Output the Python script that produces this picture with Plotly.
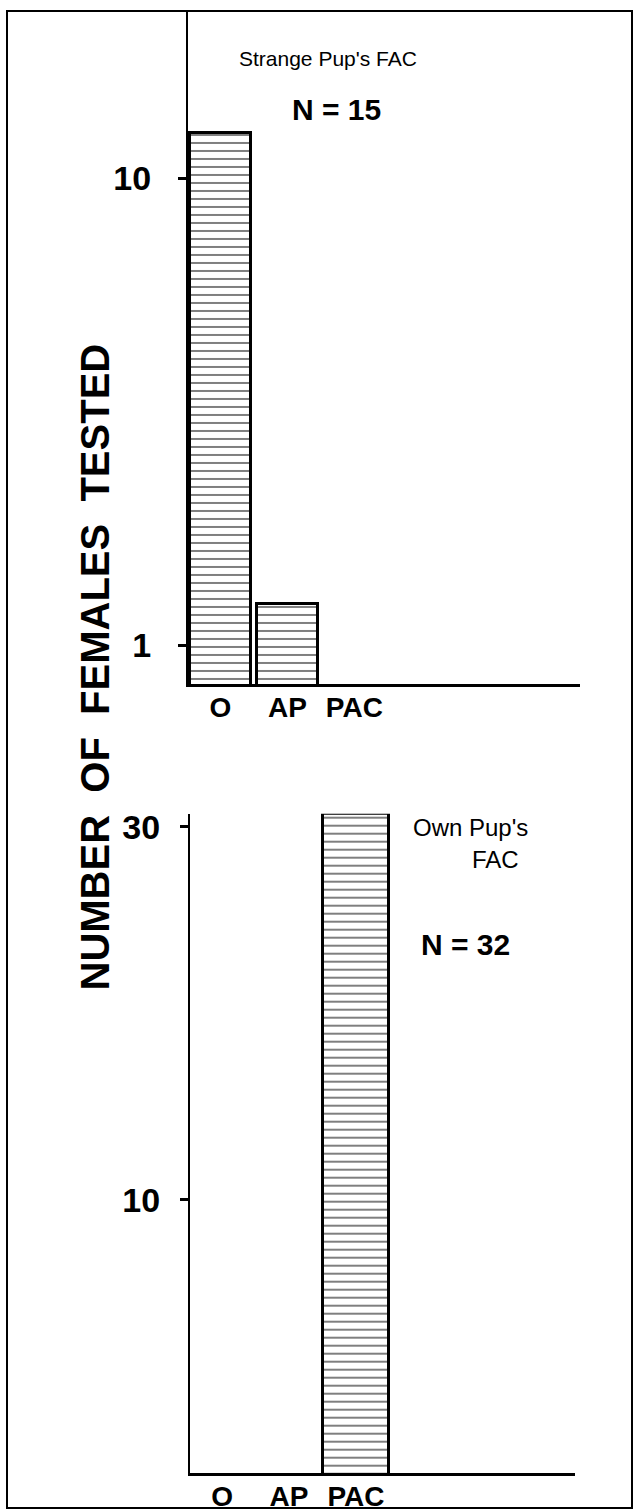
import math
import plotly.graph_objects as go

W, H = 639, 1512

# ---- data ----
categories = ["O", "AP", "PAC"]
cat_pos = [0, 1, 2]
strange_values = [12.5, 1.23, None]   # Strange Pup's FAC, N = 15
own_values = [None, None, 31.2]        # Own Pup's FAC, N = 32
top_ticks = [1, 10]
bottom_ticks = [10, 30]


def px(x):
    return x / W


def py(y):
    return 1 - y / H


FONT = "Liberation Sans, Arial, Helvetica, sans-serif"

fig = go.Figure()

hatch = dict(shape="-", size=8, solidity=0.25, fgcolor="black", bgcolor="white", fillmode="overlay")

fig.add_trace(go.Bar(x=cat_pos, y=strange_values, width=0.91,
                     marker=dict(color="white", line=dict(color="black", width=3), pattern=hatch),
                     xaxis="x", yaxis="y", showlegend=False, hoverinfo="skip"))
fig.add_trace(go.Bar(x=cat_pos, y=own_values, width=0.985,
                     marker=dict(color="white", line=dict(color="black", width=3), pattern=hatch),
                     xaxis="x2", yaxis="y2", showlegend=False, hoverinfo="skip"))

# top panel: 1 at y=643, 10 at y=173
dec_top = 643 - 173
top_lo = -(682 - 643) / dec_top
top_hi = (643 - 5) / dec_top
# bottom panel: 10 at y=1200, 30 at y=825
dec_bot = (1200 - 825) / math.log10(3)
bot_lo = 1 - (1475 - 1200) / dec_bot
bot_hi = math.log10(30) + (825 - 812) / dec_bot

xcommon = dict(showline=True, linecolor="black", linewidth=2.5, ticks="", showgrid=False, zeroline=False,
               tickvals=cat_pos, ticktext=[f"<b>{c}</b>" for c in categories], ticklabelstandoff=-4,
               tickfont=dict(family=FONT, size=28, color="black"))
ycommon = dict(showline=True, linecolor="black", linewidth=2, ticks="outside", ticklen=8, tickwidth=3,
               tickcolor="black", showgrid=False, zeroline=False, type="log",
               tickfont=dict(family=FONT, size=34, color="black"))

fig.update_layout(
    width=W, height=H,
    margin=dict(l=0, r=0, t=0, b=0),
    paper_bgcolor="white", plot_bgcolor="white",
    bargap=0,
    xaxis=dict(domain=[px(188), px(580)], anchor="y", range=[-0.485, 5.37], **xcommon),
    yaxis=dict(domain=[py(682), py(5)], anchor="x", range=[top_lo, top_hi], ticklabelstandoff=20,
               tickvals=top_ticks, ticktext=[f"<b>{v}</b>" for v in top_ticks], **ycommon),
    xaxis2=dict(domain=[px(190), px(575)], anchor="y2", range=[-0.478, 5.27], **xcommon),
    yaxis2=dict(domain=[py(1475), py(812)], anchor="x2", range=[bot_lo, bot_hi], ticklabelstandoff=13,
                tickvals=bottom_ticks, ticktext=[f"<b>{v}</b>" for v in bottom_ticks], **ycommon),
)

ann = []


def text(x, y, s, size, bold=False, family=FONT, **kw):
    ann.append(dict(x=px(x), y=py(y), xref="paper", yref="paper", text=(f"<b>{s}</b>" if bold else s),
                    showarrow=False, font=dict(family=family, size=size, color="black"),
                    xanchor="center", yanchor="middle", **kw))


text(328, 53, "Strange Pup's FAC", 21)
text(336, 104, "N = 15", 30, bold=True)
text(470, 826, "Own Pup's", 24)
text(495, 858, "FAC", 24)
text(465, 943, "N = 32", 30, bold=True)
text(95, 665, "NUMBER  OF  FEMALES  TESTED", 40, bold=True, textangle=-90)
fig.update_layout(annotations=ann)

fig.add_shape(type="rect", xref="paper", yref="paper", x0=px(7), x1=px(632), y0=py(1510), y1=py(5),
              line=dict(color="black", width=2), layer="below")

fig.write_html("out.html", config={"displayModeBar": False},
               post_script="document.body.style.margin='0';document.body.style.padding='0';")
